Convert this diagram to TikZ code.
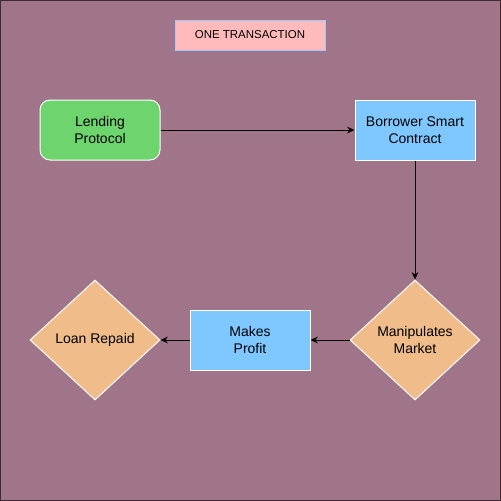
\documentclass[tikz,border=0pt]{standalone}
\usepackage{fontspec}
\setmainfont{Liberation Sans}
\usetikzlibrary{shapes.geometric,arrows.meta}

\definecolor{sfondo}{HTML}{A07589}
\definecolor{bordo}{HTML}{3A2A33}
\definecolor{rosa}{HTML}{FFBBBB}
\definecolor{celeste}{HTML}{7EC8FF}
\definecolor{verde}{HTML}{6ED46E}
\definecolor{arancio}{HTML}{F0BC8A}

\tikzset{
    testo/.style={font=\fontsize{10.5}{12.6}\selectfont, align=center, inner sep=0pt},
    scatola/.style={testo, draw=white, line width=0.75pt, fill=celeste, minimum width=90pt, minimum height=45pt},
    rombo/.style={testo, diamond, aspect=1.083, draw=white, line width=0.75pt, fill=arancio, minimum width=97.5pt, minimum height=90pt},
    freccia/.style={-{Stealth[length=5.5pt,width=5pt]}, line width=0.75pt}
}

\begin{document}
\begin{tikzpicture}[x=0.75pt,y=-0.75pt]
            % Sfondo
            \useasboundingbox (0,0) rectangle (501,501);
            \draw[fill=sfondo, draw=bordo, line width=1.5pt] (0,0) rectangle (501,501);

            % Titolo
            \node[testo, draw={rgb,255:red,160;green,200;blue,255}, line width=0.75pt, fill=rosa,
                  minimum width=112.5pt, minimum height=22.5pt, font=\fontsize{8.6}{10}\selectfont]
                  (titolo) at (250,35) {ONE TRANSACTION};

            % Nodi
            \node[scatola, fill=verde, rounded corners=7.5pt] (lending) at (100,130) {Lending\\Protocol};
            \node[scatola] (borrower) at (415,130) {Borrower Smart\\Contract};
            \node[rombo] (manipola) at (415,340) {Manipulates\\Market};
            \node[scatola] (profitto) at (250,340) {Makes\\Profit};
            \node[rombo] (ripagato) at (95,340) {Loan Repaid};

            % Frecce
            \draw[freccia] (lending) -- (borrower);
            \draw[freccia] (borrower) -- (manipola);
            \draw[freccia] (manipola) -- (profitto);
            \draw[freccia] (profitto) -- (ripagato);

        \end{tikzpicture}
\end{document}
